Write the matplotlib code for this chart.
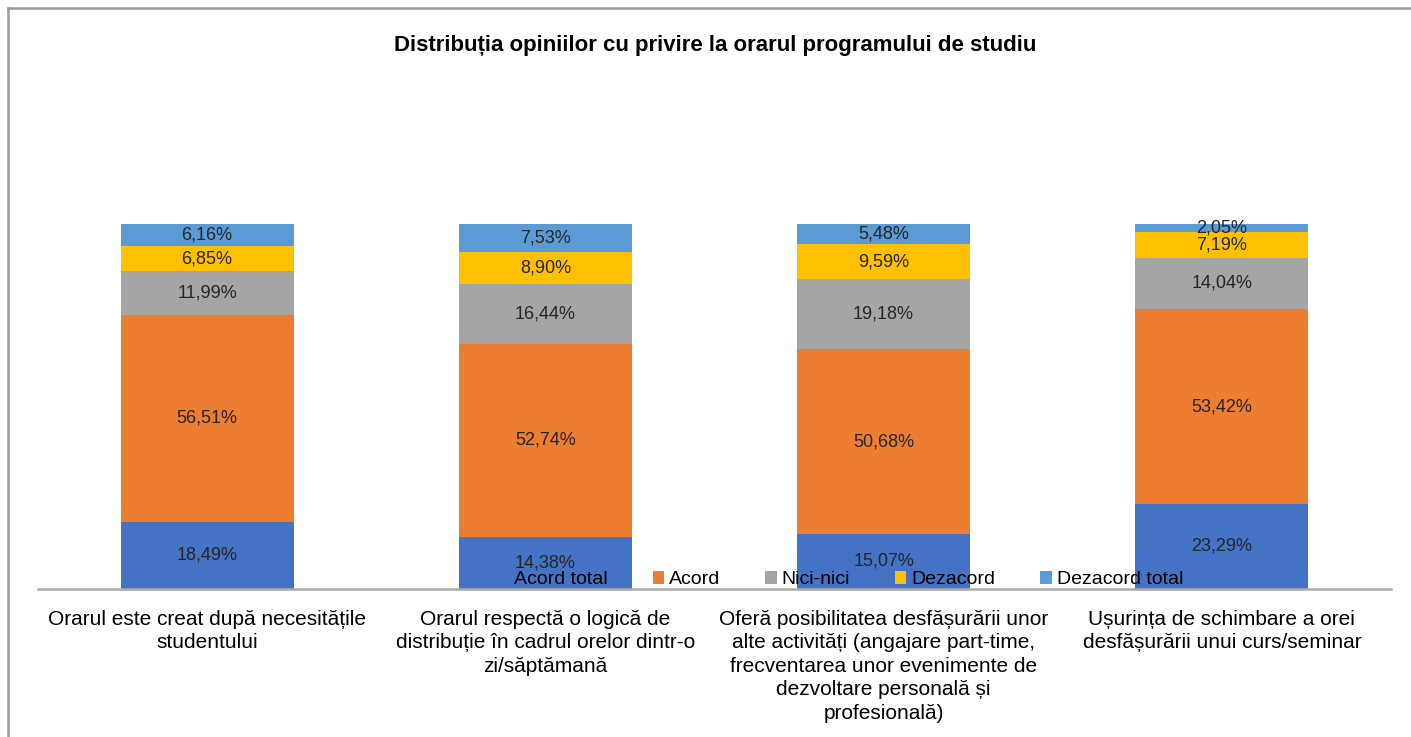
import matplotlib.pyplot as plt
from matplotlib.lines import Line2D
import numpy as np

plt.rcParams['font.family'] = ['Liberation Sans', 'DejaVu Sans']

categories = [
    'Orarul este creat după necesitățile\nstudentului',
    'Orarul respectă o logică de\ndistribuție în cadrul orelor dintr-o\nzi/săptămană',
    'Oferă posibilitatea desfășurării unor\nalte activități (angajare part-time,\nfrecventarea unor evenimente de\ndezvoltare personală și\nprofesională)',
    'Ușurința de schimbare a orei\ndesfășurării unui curs/seminar',
]
series = ['Acord total', 'Acord', 'Nici-nici', 'Dezacord', 'Dezacord total']
acord_total = [18.49, 14.38, 15.07, 23.29]
acord = [56.51, 52.74, 50.68, 53.42]
nici_nici = [11.99, 16.44, 19.18, 14.04]
dezacord = [6.85, 8.90, 9.59, 7.19]
dezacord_total = [6.16, 7.53, 5.48, 2.05]
colors = ['#4472C4', '#ED7D31', '#A5A5A5', '#FFC000', '#5B9BD5']

values = [acord_total, acord, nici_nici, dezacord, dezacord_total]

fig = plt.figure(figsize=(14.11, 7.37), dpi=100)
fig.patch.set_facecolor('white')
ax = fig.add_axes([38 / 1411, 1 - 589 / 737, 1353 / 1411, 365 / 737])

x = np.arange(len(categories))
bottom = np.zeros(len(categories))
for name, vals, col in zip(series, values, colors):
    vals = np.array(vals)
    bars = ax.bar(x, vals, width=0.512, bottom=bottom, color=col, label=name, zorder=2)
    labels = [f'{v:.2f}%'.replace('.', ',') for v in vals]
    ax.bar_label(bars, labels=labels, label_type='center', fontsize=13, color='#262626')
    bottom += vals

ax.set_xlim(-0.5, 3.5)
ax.set_ylim(0, 100)
ax.set_yticks([])
ax.set_xticks(x)
ax.set_xticklabels(categories, fontsize=15, linespacing=1.3, color='black')
ax.tick_params(axis='x', length=0, pad=15)
for s in ['top', 'right', 'left']:
    ax.spines[s].set_visible(False)
ax.spines['bottom'].set_color('#ABABAB')
ax.spines['bottom'].set_linewidth(1.8)
ax.spines['bottom'].set_zorder(3)

leg = ax.legend(loc='center', bbox_to_anchor=(0.593, 0.025), ncol=5, frameon=False,
                fontsize=14, handlelength=0.6, handleheight=0.6, handletextpad=0.25,
                columnspacing=2.3, borderpad=0)
leg.set_zorder(5)

fig.text(0.507, 1 - 46 / 737, 'Distribuția opiniilor cu privire la orarul programului de studiu',
         ha='center', va='center', fontsize=16, fontweight='bold')

# chart frame (top and left edges visible)
fig.add_artist(Line2D([8 / 1411, 8 / 1411], [0, 1 - 8 / 737], color='#9A9A9A', lw=1.8))
fig.add_artist(Line2D([8 / 1411, 1], [1 - 8 / 737, 1 - 8 / 737], color='#9A9A9A', lw=1.8))

fig.savefig('out.png', dpi=100, facecolor='white')
